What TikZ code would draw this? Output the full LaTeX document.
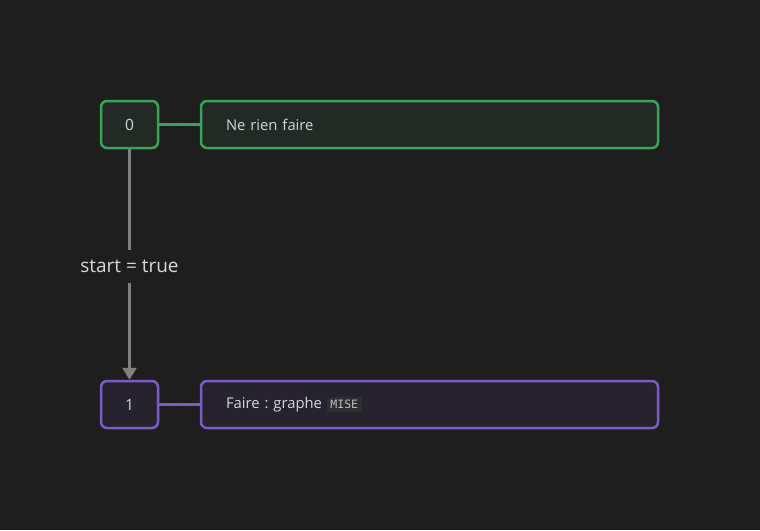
\documentclass[tikz,border=0pt]{standalone}
\usepackage{fontspec}
\setmainfont{Open Sans}
\setmonofont{DejaVu Sans Mono}
\usepackage{tikz}
\usetikzlibrary{arrows.meta, positioning}
\frenchspacing

\definecolor{bgdark}{HTML}{1E1E1E}
\definecolor{griddot}{HTML}{303030}
\definecolor{okgreen}{HTML}{3AA25A}
\definecolor{okfill}{HTML}{212A24}
\definecolor{dopurple}{HTML}{7C5CC4}
\definecolor{dofill}{HTML}{26232E}
\definecolor{txtlight}{HTML}{D8D8D8}
\definecolor{edgegray}{HTML}{808080}
\definecolor{codebg}{HTML}{2E2E2E}
\definecolor{codetxt}{HTML}{BDBDBD}

\tikzset{
  statebox/.style={draw, rounded corners=6pt, line width=2.5pt, minimum width=57pt,
    minimum height=47pt, inner sep=0pt, text=txtlight, font=\fontsize{15.5}{18}\selectfont},
  actionbox/.style={draw, rounded corners=6pt, line width=2.5pt, text width=407pt,
    inner xsep=25pt, minimum height=47pt, align=left, text=txtlight,
    font=\fontsize{14.8}{18}\selectfont},
}

\newcommand{\codeword}[1]{{\setlength{\fboxsep}{3.5pt}\colorbox{codebg}{\textcolor{codetxt}{\ttfamily\fontsize{11.5}{14}\selectfont #1}}}}

\begin{document}
\begin{tikzpicture}[x=1pt, y=-1pt, >=Stealth]
        % Background
        \fill[bgdark] (0,0) rectangle (760,530);
        \useasboundingbox (0,0) rectangle (760,530);
        \foreach \i in {0,...,37}
          \foreach \j in {0,...,26}
            \fill[griddot] (11+20*\i, 6+20*\j) circle (0.9pt);

        % Nodes
        \node[statebox, draw=okgreen, fill=okfill] (s0) at (129.5, 124.5) {0};
        \node[actionbox, draw=okgreen, fill=okfill] (a0) at (429.5, 124.5) {Ne rien faire};
        \node[statebox, draw=dopurple, fill=dofill] (s1) at (129.5, 404.5) {1};
        \node[actionbox, draw=dopurple, fill=dofill] (a1) at (429.5, 404.5) {Faire : graphe \codeword{MISE}};

        % Links
        \draw[okgreen, line width=3pt] (s0) -- (a0);
        \draw[dopurple, line width=3pt] (s1) -- (a1);

        % Directed edges
        \draw[->, edgegray, line width=2.5pt, arrows={-Triangle[length=12pt, width=14pt]}]
          (s0) -- (s1) node[pos=0.51, fill=bgdark, text=txtlight, inner xsep=2pt, inner ysep=10pt,
          font=\fontsize{19}{22}\selectfont] {start = true};
\end{tikzpicture}
\end{document}
